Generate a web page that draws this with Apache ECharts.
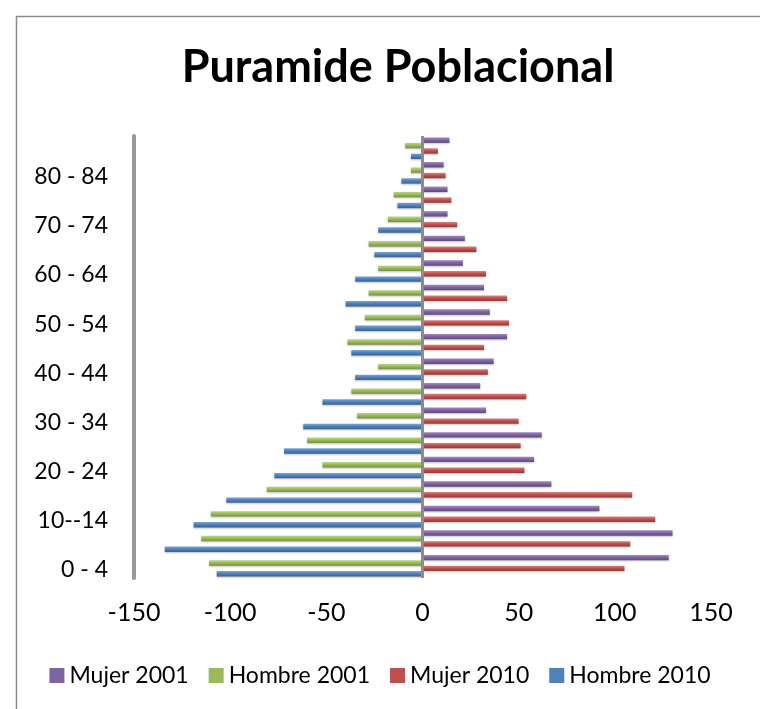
<!DOCTYPE html>
<html>
<head>
<meta charset="utf-8">
<script src="https://cdn.jsdelivr.net/npm/echarts@6/dist/echarts.min.js"></script>
<style>
  html, body { margin: 0; padding: 0; background: #fff; }
  #chart { width: 760px; height: 709px; }
</style>
</head>
<body>
<div id="chart"></div>
<script>
// age groups, bottom to top
const ageGroups = ['0 - 4', '5 - 9', '10--14', '15 - 19', '20 - 24', '25 - 29', '30 - 34', '35 - 39',
  '40 - 44', '45 - 49', '50 - 54', '55 - 59', '60 - 64', '65 - 69', '70 - 74', '75 - 79', '80 - 84', '85 - 89'];

// women positive, men negative
const mujer2001 = [128, 130, 92, 67, 58, 62, 33, 30, 37, 44, 35, 32, 21, 22, 13, 13, 11, 14];
const hombre2001 = [-111, -115, -110, -81, -52, -60, -34, -37, -23, -39, -30, -28, -23, -28, -18, -15, -6, -9];
const mujer2010 = [105, 108, 121, 109, 53, 51, 50, 54, 34, 32, 45, 44, 33, 28, 18, 15, 12, 8];
const hombre2010 = [-107, -134, -119, -102, -77, -72, -62, -52, -35, -37, -35, -40, -35, -25, -23, -13, -11, -6];

const xTicks = { min: -150, max: 150, interval: 50 };

const font = 'Lato, "Open Sans", sans-serif';

const palette = {
  'Mujer 2001': ['#a38bc2', '#8064a2', '#5f4a7a'],
  'Hombre 2001': ['#bcd68a', '#9bbb59', '#76903f'],
  'Mujer 2010': ['#d98482', '#c0504d', '#923a38'],
  'Hombre 2010': ['#7fa4d4', '#4f81bd', '#3a6190'],
};

function shade(c) {
  return new echarts.graphic.LinearGradient(0, 0, 0, 1, [
    { offset: 0, color: c[0] },
    { offset: 0.45, color: c[1] },
    { offset: 1, color: c[2] },
  ]);
}

function barSeries(name, data) {
  return {
    name,
    type: 'bar',
    data,
    barGap: '0%',
    barCategoryGap: '12%',
    itemStyle: {
      color: shade(palette[name]),
      shadowColor: 'rgba(0,0,0,0.25)',
      shadowBlur: 2,
      shadowOffsetY: 1,
    },
  };
}

const chart = echarts.init(document.getElementById('chart'), null, { renderer: 'canvas' });

const series = [
  barSeries('Mujer 2001', mujer2001),
  barSeries('Hombre 2001', hombre2001),
  barSeries('Mujer 2010', mujer2010),
  barSeries('Hombre 2010', hombre2010),
];
// category axis line at zero
series[0].markLine = {
  silent: true,
  symbol: 'none',
  label: { show: false },
  lineStyle: { color: '#8c8c8c', width: 3, type: 'solid' },
  data: [{ xAxis: 0 }],
};

chart.setOption({
  backgroundColor: '#fff',
  animation: false,
  graphic: [{
    type: 'rect',
    left: 14,
    top: 14,
    shape: { width: 760, height: 710 },
    style: { fill: 'none', stroke: '#8c8c8c', lineWidth: 1.5 },
    silent: true,
  }],
  title: {
    text: 'Puramide Poblacional',
    left: 393,
    textAlign: 'center',
    top: 40,
    textStyle: { fontFamily: font, fontWeight: 'bold', fontSize: 45, color: '#000' },
  },
  legend: {
    data: Object.keys(palette).map((name) => ({ name, itemStyle: { color: palette[name][1] } })),
    bottom: 17,
    left: 'center',
    padding: [5, 5, 5, 28],
    icon: 'rect',
    itemWidth: 15,
    itemHeight: 15,
    itemGap: 20,
    textStyle: { fontFamily: font, fontSize: 23, color: '#000' },
  },
  grid: { left: 134, right: 49, top: 136, bottom: 131 },
  xAxis: {
    type: 'value',
    min: xTicks.min,
    max: xTicks.max,
    interval: xTicks.interval,
    axisLine: { show: false },
    axisTick: { show: false },
    splitLine: { show: false },
    axisLabel: { fontFamily: font, fontSize: 25, color: '#000', margin: 22 },
  },
  yAxis: {
    type: 'category',
    data: ageGroups,
    axisLine: { show: true, onZero: false, lineStyle: { color: '#9a9a9a', width: 4 } },
    axisTick: { show: false },
    axisLabel: {
      interval: 1,
      margin: 26,
      formatter: (v) => `{a|${v}}`,
      rich: { a: { fontFamily: font, fontSize: 23, color: '#000', padding: [8, 0, 0, 0] } },
    },
  },
  series,
});
</script>
</body>
</html>
